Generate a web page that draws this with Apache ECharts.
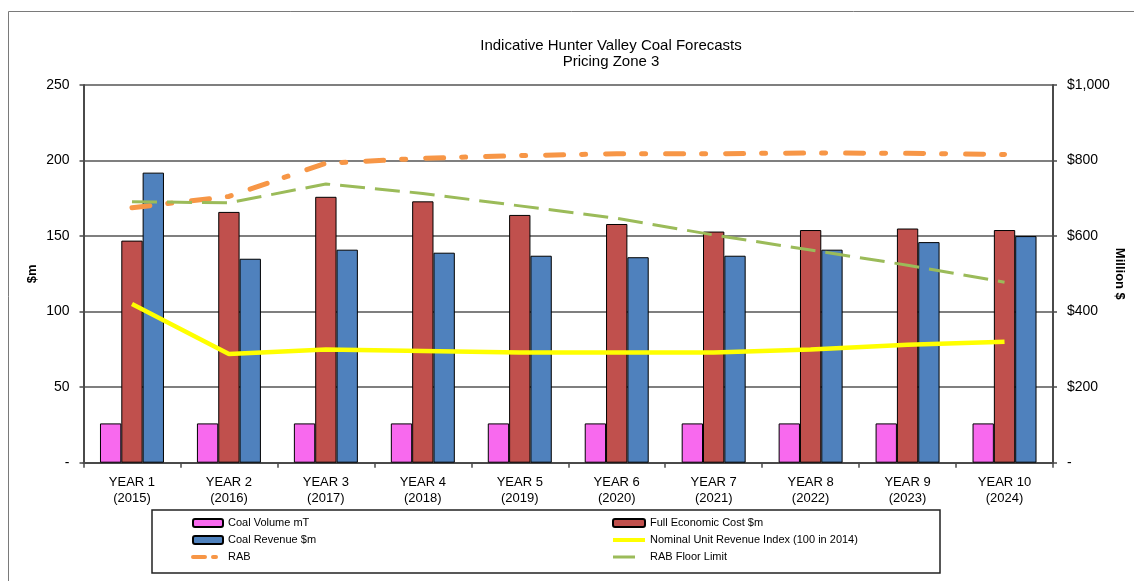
<!DOCTYPE html>
<html>
<head>
<meta charset="utf-8">
<script src="https://cdn.jsdelivr.net/npm/echarts@6/dist/echarts.min.js"></script>
<style>
  html, body { margin: 0; padding: 0; background: #ffffff; }
  #chart { width: 1134px; height: 581px; }
</style>
</head>
<body>
<div id="chart"></div>
<script>
// Forecast years
const categories = [
  'YEAR 1\n(2015)', 'YEAR 2\n(2016)', 'YEAR 3\n(2017)', 'YEAR 4\n(2018)', 'YEAR 5\n(2019)',
  'YEAR 6\n(2020)', 'YEAR 7\n(2021)', 'YEAR 8\n(2022)', 'YEAR 9\n(2023)', 'YEAR 10\n(2024)'
];

// Left axis ($m / index)
const coalVolume = [26, 26, 26, 26, 26, 26, 26, 26, 26, 26];
const fullEconomicCost = [147, 166, 176, 173, 164, 158, 153, 154, 155, 154];
const coalRevenue = [192, 135, 141, 139, 137, 136, 137, 141, 146, 150];
const nominalRevenueIndex = [105, 72, 75, 74, 73, 73, 73, 75, 78, 80];

// Right axis (Million $)
const rab = [675, 705, 793, 806, 813, 818, 818, 820, 819, 816];
const rabFloorLimit = [691, 688, 738, 713, 680, 647, 603, 563, 523, 478];

// Axis tick labels
const leftTicks = { 0: '-', 50: '50', 100: '100', 150: '150', 200: '200', 250: '250' };
const rightTicks = { 0: '-', 200: '$200', 400: '$400', 600: '$600', 800: '$800', 1000: '$1,000' };

const FONT = '"Liberation Sans", Arial, sans-serif';
const AXIS_COLOR = '#4a4a4a';

const chart = echarts.init(document.getElementById('chart'), null, { renderer: 'canvas' });

const barBorder = { borderColor: '#000000', borderWidth: 1 };
const legendText = { fontFamily: FONT, fontSize: 11, lineHeight: 12, color: '#000000' };
// line items in the legend show only their stroke, no marker
const hideMarker = { opacity: 0 };

chart.setOption({
  animation: false,
  backgroundColor: '#ffffff',
  textStyle: { fontFamily: FONT, color: '#000000' },
  title: {
    text: 'Indicative Hunter Valley Coal Forecasts\nPricing Zone 3',
    left: 606,
    top: 33,
    textAlign: 'center',
    textStyle: { fontFamily: FONT, fontSize: 15, fontWeight: 'normal', lineHeight: 16, color: '#000000' }
  },
  legend: [
    {
      data: [
        { name: 'Coal Volume mT' },
        { name: 'Coal Revenue $m' },
        { name: 'RAB', itemStyle: hideMarker, lineStyle: { width: 4, type: [12, 8, 3, 8] } }
      ],
      orient: 'vertical',
      left: 186,
      top: 512,
      itemWidth: 30,
      itemHeight: 8,
      itemGap: 5,
      textStyle: legendText
    },
    {
      data: [
        { name: 'Full Economic Cost $m' },
        { name: 'Nominal Unit Revenue Index (100 in 2014)', itemStyle: hideMarker, lineStyle: { width: 4 } },
        { name: 'RAB Floor Limit', itemStyle: hideMarker, lineStyle: { width: 3, type: [22, 10] } }
      ],
      orient: 'vertical',
      left: 606,
      top: 512,
      itemWidth: 32,
      itemHeight: 8,
      itemGap: 5,
      textStyle: legendText
    }
  ],
  graphic: [
    {
      type: 'rect',
      shape: { x: 8.5, y: 11.5, width: 1300, height: 800 },
      style: { fill: 'none', stroke: '#7a7a7a', lineWidth: 1 },
      silent: true
    },
    {
      type: 'rect',
      shape: { x: 152, y: 510, width: 788, height: 63 },
      style: { fill: 'none', stroke: '#222222', lineWidth: 1.5 },
      silent: true,
      z: -1
    }
  ],
  grid: { left: 83.5, right: 81, top: 85, bottom: 118.3, containLabel: false, outerBoundsMode: 'none' },
  xAxis: {
    type: 'category',
    data: categories,
    boundaryGap: true,
    axisLine: { lineStyle: { color: AXIS_COLOR, width: 2 } },
    axisTick: { show: true, inside: false, length: 5, lineStyle: { color: AXIS_COLOR, width: 1.5 } },
    axisLabel: { fontFamily: FONT, fontSize: 13, lineHeight: 16, color: '#000000', margin: 12, interval: 0 },
    splitLine: { show: false }
  },
  yAxis: [
    {
      type: 'value',
      min: 0,
      max: 250,
      interval: 50,
      position: 'left',
      name: '$m',
      nameLocation: 'middle',
      nameRotate: 90,
      nameGap: 45,
      nameMoveOverlap: false,
      nameTextStyle: { fontFamily: FONT, fontSize: 13, fontWeight: 'bold', color: '#000000' },
      axisLine: { show: true, lineStyle: { color: AXIS_COLOR, width: 2 } },
      axisTick: { show: true, length: 4, lineStyle: { color: AXIS_COLOR, width: 1.5 } },
      axisLabel: {
        fontFamily: FONT, fontSize: 14, color: '#000000', margin: 14,
        formatter: v => leftTicks[v] !== undefined ? leftTicks[v] : ''
      },
      splitLine: { show: true, lineStyle: { color: '#555555', width: 1.5 } }
    },
    {
      type: 'value',
      min: 0,
      max: 1000,
      interval: 200,
      position: 'right',
      name: 'Million $',
      nameLocation: 'middle',
      nameRotate: -90,
      nameGap: 60,
      nameMoveOverlap: false,
      nameTextStyle: { fontFamily: FONT, fontSize: 13, fontWeight: 'bold', color: '#000000' },
      axisLine: { show: true, lineStyle: { color: AXIS_COLOR, width: 2 } },
      axisTick: { show: true, length: 4, lineStyle: { color: AXIS_COLOR, width: 1.5 } },
      axisLabel: {
        fontFamily: FONT, fontSize: 14, color: '#000000', margin: 14,
        formatter: v => rightTicks[v] !== undefined ? rightTicks[v] : ''
      },
      splitLine: { show: false }
    }
  ],
  series: [
    {
      name: 'Coal Volume mT',
      type: 'bar',
      yAxisIndex: 0,
      data: coalVolume,
      barGap: '0%',
      barCategoryGap: '34%',
      itemStyle: Object.assign({ color: '#F869EE' }, barBorder)
    },
    {
      name: 'Full Economic Cost $m',
      type: 'bar',
      yAxisIndex: 0,
      data: fullEconomicCost,
      barGap: '0%',
      barCategoryGap: '34%',
      itemStyle: Object.assign({ color: '#C0504D' }, barBorder)
    },
    {
      name: 'Coal Revenue $m',
      type: 'bar',
      yAxisIndex: 0,
      data: coalRevenue,
      barGap: '0%',
      barCategoryGap: '34%',
      itemStyle: Object.assign({ color: '#4F81BD' }, barBorder)
    },
    {
      name: 'Nominal Unit Revenue Index (100 in 2014)',
      type: 'line',
      yAxisIndex: 0,
      data: nominalRevenueIndex,
      symbol: 'none',
      lineStyle: { color: '#FFFF00', width: 4.5 },
      itemStyle: { color: '#FFFF00' },
      z: 5
    },
    {
      name: 'RAB',
      type: 'line',
      yAxisIndex: 1,
      data: rab,
      symbol: 'none',
      lineStyle: { color: '#F79646', width: 5, type: [18, 18, 4, 20], cap: 'round' },
      itemStyle: { color: '#F79646' },
      z: 5
    },
    {
      name: 'RAB Floor Limit',
      type: 'line',
      yAxisIndex: 1,
      data: rabFloorLimit,
      symbol: 'none',
      lineStyle: { color: '#9BBB59', width: 3, type: [25, 10] },
      itemStyle: { color: '#9BBB59' },
      z: 5
    }
  ]
});
</script>
</body>
</html>
